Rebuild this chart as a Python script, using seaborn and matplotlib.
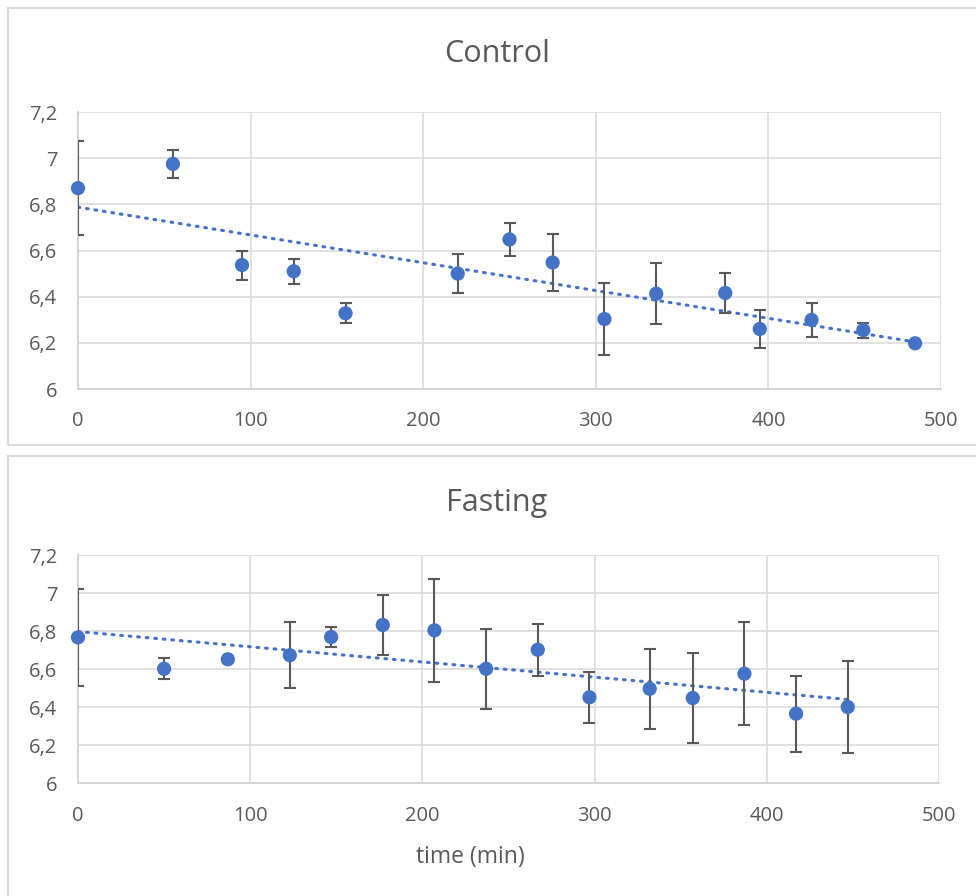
import numpy as np
import pandas as pd
import seaborn as sns
import matplotlib.pyplot as plt
from matplotlib.patches import Rectangle

# values
ctrl_time = [0, 55, 95, 125, 155, 220, 250, 275, 305, 335, 375, 395, 425, 455, 485]
ctrl_ph = [6.87, 6.975, 6.537, 6.51, 6.328, 6.50, 6.648, 6.548, 6.303, 6.413, 6.416, 6.26, 6.299, 6.255, 6.198]
ctrl_err = [0.205, 0.06, 0.063, 0.055, 0.043, 0.083, 0.07, 0.122, 0.155, 0.131, 0.087, 0.084, 0.072, 0.033, 0.0]

fast_time = [0, 50, 87, 123, 147, 177, 207, 237, 267, 297, 332, 357, 387, 417, 447]
fast_ph = [6.767, 6.602, 6.652, 6.673, 6.769, 6.832, 6.804, 6.602, 6.702, 6.452, 6.497, 6.448, 6.576, 6.366, 6.401]
fast_err = [0.253, 0.055, 0.0, 0.174, 0.055, 0.16, 0.27, 0.21, 0.137, 0.133, 0.211, 0.236, 0.27, 0.2, 0.243]

x_ticks = [0, 100, 200, 300, 400, 500]
x_labels = ['0', '100', '200', '300', '400', '500']
y_ticks = [6.0, 6.2, 6.4, 6.6, 6.8, 7.0, 7.2]
y_labels = ['6', '6,2', '6,4', '6,6', '6,8', '7', '7,2']

sns.set_style("white")
plt.rcParams['font.family'] = ['Open Sans', 'DejaVu Sans']

blue = '#4472C4'
grey = '#595959'
W, H = 976, 896

fig = plt.figure(figsize=(W / 100, H / 100), dpi=100)

# chart frames like the Excel boxes
fig.add_artist(Rectangle((8 / W, 1 - 445 / H), 980 / W, 437 / H, transform=fig.transFigure,
                         fill=False, edgecolor='#d9d9d9', lw=1.5))
fig.add_artist(Rectangle((8 / W, -0.02), 980 / W, 1 - 456 / H + 0.02, transform=fig.transFigure,
                         fill=False, edgecolor='#d9d9d9', lw=1.5))

ax1 = fig.add_axes([78 / W, 1 - 389 / H, 863 / W, 277 / H])
ax2 = fig.add_axes([78 / W, 1 - 783.3 / H, 861 / W, 228.3 / H])


def draw_panel(ax, t, y, err):
    df = pd.DataFrame({'time': t, 'ph': y, 'err': err})
    sns.regplot(data=df, x='time', y='ph', ax=ax, scatter=False, ci=None, truncate=True,
                color=blue, line_kws=dict(lw=2.2, ls=(0, (0.6, 2.2)), dash_capstyle='round', zorder=2))
    bars = df[df['err'] > 0]
    ax.errorbar(bars['time'], bars['ph'], yerr=bars['err'], fmt='none', ecolor=grey,
                elinewidth=1.5, capsize=4.3, capthick=1.5, zorder=3)
    sns.scatterplot(data=df, x='time', y='ph', ax=ax, color=blue, s=105, edgecolor='none',
                    zorder=4, clip_on=False)
    ax.set_xlim(0, 500)
    ax.set_ylim(6, 7.2)
    ax.set_xticks(x_ticks)
    ax.set_xticklabels(x_labels)
    ax.set_yticks(y_ticks)
    ax.set_yticklabels(y_labels)
    ax.grid(True, color='#d9d9d9', lw=1.1, zorder=0)
    ax.set_axisbelow(True)
    ax.tick_params(length=0, labelsize=14.5, colors=grey)
    ax.tick_params(axis='x', pad=16)
    ax.tick_params(axis='y', pad=15)
    for side in ['top', 'right']:
        ax.spines[side].set_visible(False)
    for side in ['left', 'bottom']:
        ax.spines[side].set_color('#cfcfcf')
        ax.spines[side].set_linewidth(1.2)
    ax.set_xlabel('')
    ax.set_ylabel('')


draw_panel(ax1, ctrl_time, ctrl_ph, ctrl_err)
draw_panel(ax2, fast_time, fast_ph, fast_err)

fig.text(497 / W, 1 - 62 / H, 'Control', ha='center', va='baseline', fontsize=22, color=grey)
fig.text(497 / W, 1 - 511 / H, 'Fasting', ha='center', va='baseline', fontsize=22, color=grey)
fig.text(470 / W, 1 - 857 / H, 'time (min)', ha='center', va='center', fontsize=16.5, color=grey)

plt.savefig('out.png', dpi=100)
